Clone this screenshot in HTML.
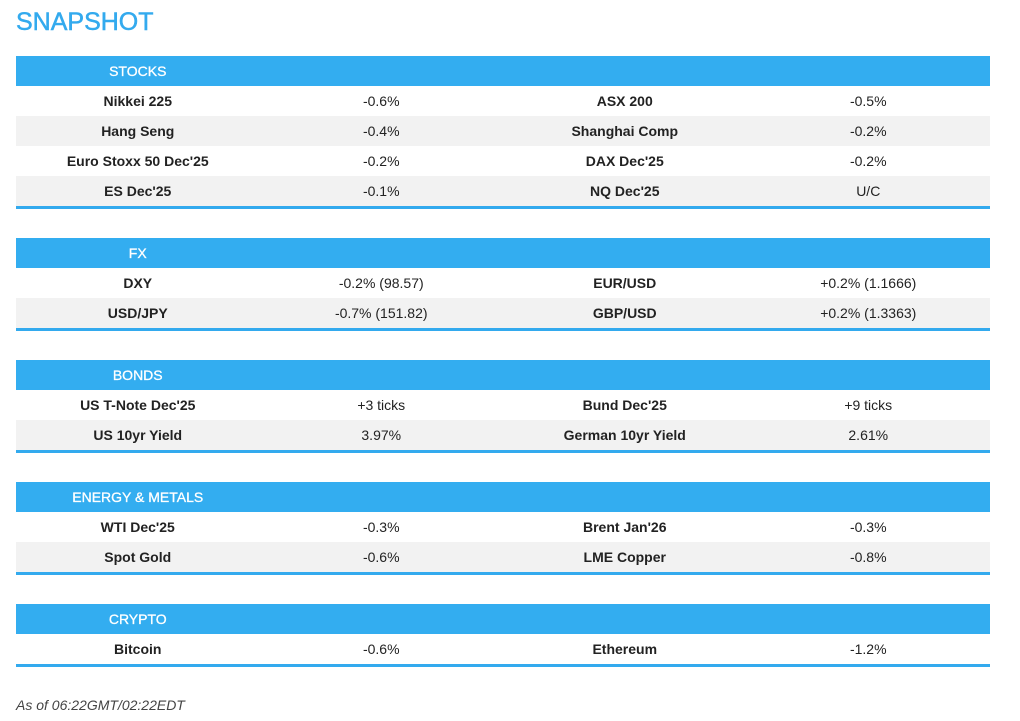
<!DOCTYPE html>
<html><head><meta charset="utf-8"><style>
body{margin:0;width:1020px;height:721px;background:#fff;font-family:"Liberation Sans",sans-serif;position:relative;overflow:hidden}
h1{position:absolute;left:16px;top:8px;margin:0;font-size:25px;font-weight:normal;color:#33aaee;-webkit-text-stroke:0.5px #33aaee}
table{position:absolute;left:16px;width:974px;border-collapse:collapse;table-layout:fixed;border-bottom:3px solid #33aaee}
td{height:30px;padding:0;text-align:center;font-size:14px;color:#222}
tr.h td{background:#33adf0;color:#fff;height:30px;-webkit-text-stroke:0.3px #fff}
tr.g td{background:#f2f2f2}
td.b{font-weight:bold}
.foot{position:absolute;left:16px;top:697px;font-size:14px;font-style:italic;color:#444}
</style></head><body>
<h1>SNAPSHOT</h1>
<table style="top:56px"><tr class="h"><td>STOCKS</td><td></td><td></td><td></td></tr>
<tr><td class="b">Nikkei 225</td><td>-0.6%</td><td class="b">ASX 200</td><td>-0.5%</td></tr>
<tr class="g"><td class="b">Hang Seng</td><td>-0.4%</td><td class="b">Shanghai Comp</td><td>-0.2%</td></tr>
<tr><td class="b">Euro Stoxx 50 Dec'25</td><td>-0.2%</td><td class="b">DAX Dec'25</td><td>-0.2%</td></tr>
<tr class="g"><td class="b">ES Dec'25</td><td>-0.1%</td><td class="b">NQ Dec'25</td><td>U/C</td></tr></table>
<table style="top:238px"><tr class="h"><td>FX</td><td></td><td></td><td></td></tr>
<tr><td class="b">DXY</td><td>-0.2% (98.57)</td><td class="b">EUR/USD</td><td>+0.2% (1.1666)</td></tr>
<tr class="g"><td class="b">USD/JPY</td><td>-0.7% (151.82)</td><td class="b">GBP/USD</td><td>+0.2% (1.3363)</td></tr></table>
<table style="top:360px"><tr class="h"><td>BONDS</td><td></td><td></td><td></td></tr>
<tr><td class="b">US T-Note Dec'25</td><td>+3 ticks</td><td class="b">Bund Dec'25</td><td>+9 ticks</td></tr>
<tr class="g"><td class="b">US 10yr Yield</td><td>3.97%</td><td class="b">German 10yr Yield</td><td>2.61%</td></tr></table>
<table style="top:482px"><tr class="h"><td>ENERGY &amp; METALS</td><td></td><td></td><td></td></tr>
<tr><td class="b">WTI Dec'25</td><td>-0.3%</td><td class="b">Brent Jan'26</td><td>-0.3%</td></tr>
<tr class="g"><td class="b">Spot Gold</td><td>-0.6%</td><td class="b">LME Copper</td><td>-0.8%</td></tr></table>
<table style="top:604px"><tr class="h"><td>CRYPTO</td><td></td><td></td><td></td></tr>
<tr><td class="b">Bitcoin</td><td>-0.6%</td><td class="b">Ethereum</td><td>-1.2%</td></tr></table>
<div class="foot">As of 06:22GMT/02:22EDT</div>
</body></html>
